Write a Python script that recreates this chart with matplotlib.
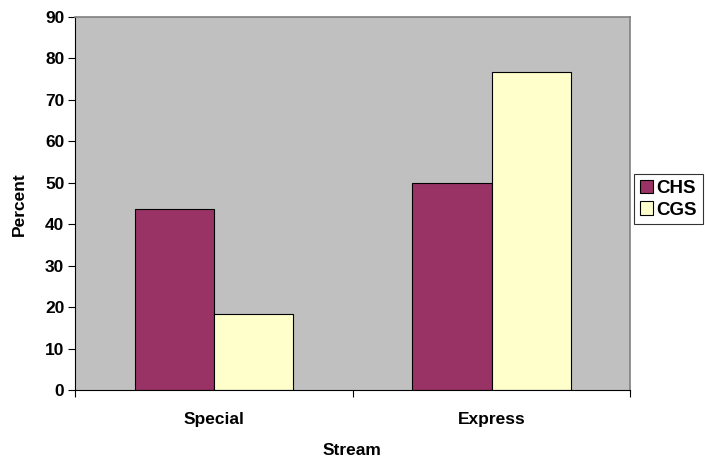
import numpy as np
import matplotlib.pyplot as plt
from matplotlib.ticker import FixedLocator, NullFormatter

plt.rcParams['font.family'] = ['Liberation Sans', 'DejaVu Sans']

categories = ['Special', 'Express']
chs = [43.6, 50.0]
cgs = [18.3, 76.6]
series_names = ['CHS', 'CGS']

fig = plt.figure(figsize=(7.05, 4.61), dpi=100)
ax = fig.add_axes([0.107, 0.154, 0.787, 0.810])
ax.set_facecolor('#C0C0C0')

x = np.arange(len(categories))
bw = 1 / 3.5
ax.bar(x - bw / 2, chs, bw, color='#993366', edgecolor='black', linewidth=0.8, label=series_names[0])
ax.bar(x + bw / 2, cgs, bw, color='#FFFFCC', edgecolor='black', linewidth=0.8, label=series_names[1])

ax.set_xlim(-0.5, 1.5)
ax.set_ylim(0, 90)
ax.set_yticks(np.arange(0, 91, 10))
ax.set_xticks(x)
ax.set_xticklabels(categories, fontsize=12.5, weight='bold')
ax.tick_params(axis='x', length=0, pad=16)
ax.xaxis.set_minor_locator(FixedLocator([-0.5, 0.5, 1.5]))
ax.xaxis.set_minor_formatter(NullFormatter())
ax.tick_params(axis='x', which='minor', length=5, width=0.8, color='black')
ax.tick_params(axis='y', length=5, width=0.8, labelsize=12.5, pad=3)
for lab in ax.get_yticklabels():
    lab.set_fontweight('bold')

for s in ['top', 'right']:
    ax.spines[s].set_color('#808080')
    ax.spines[s].set_linewidth(1.2)
for s in ['left', 'bottom']:
    ax.spines[s].set_color('black')
    ax.spines[s].set_linewidth(0.8)

fig.text(19 / 705, 1 - 204 / 461, 'Percent', rotation=90, ha='center', va='center',
         fontsize=12.5, weight='bold')
fig.text(352 / 705, 1 - 450 / 461, 'Stream', ha='center', va='center',
         fontsize=12.5, weight='bold')

leg = fig.legend(loc='upper left', bbox_to_anchor=(634 / 705, 1 - 174 / 461),
                 prop={'weight': 'bold', 'size': 13.5},
                 frameon=True, fancybox=False, handlelength=0.7, handleheight=0.7,
                 handletextpad=0.2, borderpad=0.3, labelspacing=0.25, borderaxespad=0)
leg.get_frame().set_edgecolor('black')
leg.get_frame().set_linewidth(0.8)

fig.savefig('out.png', dpi=100)
